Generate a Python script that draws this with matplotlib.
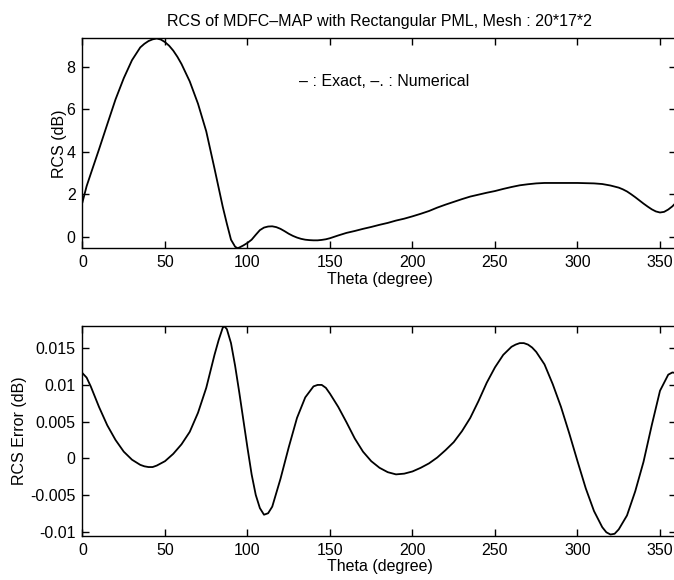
import matplotlib
matplotlib.use("Agg")
import matplotlib.pyplot as plt

plt.rcParams['font.family'] = ['Liberation Sans', 'DejaVu Sans']

title = "RCS of MDFC\u2013MAP with Rectangular PML, Mesh : 20*17*2"
note = "\u2013 : Exact, \u2013. : Numerical"
xlabel = "Theta (degree)"
ylabel_top = "RCS (dB)"
ylabel_bot = "RCS Error (dB)"

xticks = [0, 50, 100, 150, 200, 250, 300, 350]
yticks_top = [0, 2, 4, 6, 8]
yticks_bot = [-0.01, -0.005, 0, 0.005, 0.01, 0.015]
yticklabels_bot = ["-0.01", "-0.005", "0", "0.005", "0.01", "0.015"]

theta_top = [0, 2.5, 5, 10, 15, 20, 25, 30, 35, 37.5, 40, 42.5, 45, 47.5, 50,
             52.5, 55, 57.5, 60, 65, 70, 75, 80, 85, 87.5, 90, 92.5, 94, 95,
             97.5, 100, 102.5, 105, 107.5, 110, 112.5, 115, 117.5, 120, 122.5,
             125, 127.5, 130, 132.5, 135, 137.5, 140, 142.5, 145, 147.5, 150,
             155, 160, 165, 170, 175, 180, 185, 190, 195, 200, 205, 210, 215,
             220, 225, 230, 235, 240, 245, 250, 255, 260, 265, 270, 275, 280,
             285, 290, 295, 300, 305, 310, 315, 320, 325, 327.5, 330, 332.5,
             335, 337.5, 340, 342.5, 345, 347.5, 350, 352.5, 355, 357.5, 360]
rcs_top = [1.62, 2.37, 2.95, 4.1, 5.28, 6.45, 7.45, 8.3, 8.9, 9.07, 9.2, 9.28,
           9.32, 9.27, 9.15, 8.98, 8.75, 8.46, 8.12, 7.3, 6.25, 4.95, 3.2, 1.4,
           0.6, -0.15, -0.48, -0.55, -0.52, -0.42, -0.3, -0.15, 0.08, 0.3,
           0.42, 0.47, 0.48, 0.44, 0.36, 0.25, 0.13, 0.03, -0.05, -0.11, -0.15,
           -0.17, -0.18, -0.18, -0.16, -0.13, -0.08, 0.05, 0.17, 0.26, 0.36,
           0.45, 0.55, 0.64, 0.75, 0.84, 0.95, 1.07, 1.2, 1.36, 1.5, 1.63, 1.76,
           1.88, 1.97, 2.06, 2.14, 2.24, 2.33, 2.41, 2.46, 2.5, 2.52, 2.52,
           2.52, 2.52, 2.52, 2.51, 2.5, 2.47, 2.4, 2.3, 2.22, 2.12, 1.99, 1.85,
           1.7, 1.55, 1.41, 1.28, 1.18, 1.13, 1.16, 1.27, 1.42, 1.62]

theta_bot = [0, 2.5, 5, 10, 15, 20, 25, 30, 35, 37.5, 40, 42.5, 45, 50, 55, 60,
             65, 70, 75, 80, 82.5, 85, 86, 87.5, 90, 92.5, 95, 97.5, 100, 102.5,
             105, 107.5, 110, 112.5, 115, 120, 125, 130, 135, 140, 142.5, 145,
             147.5, 150, 155, 160, 165, 170, 175, 180, 185, 190, 195, 200, 205,
             210, 215, 220, 225, 230, 235, 240, 245, 250, 255, 260, 262.5, 265,
             267.5, 270, 272.5, 275, 280, 285, 290, 295, 300, 305, 310, 315,
             317.5, 320, 322.5, 325, 330, 335, 340, 345, 350, 355, 357.5, 360]
err_bot = [0.0116, 0.0110, 0.0098, 0.0070, 0.0045, 0.0025, 0.0009, -0.0002,
           -0.0009, -0.0011, -0.0012, -0.0012, -0.0010, -0.0004, 0.0006,
           0.0019, 0.0036, 0.0062, 0.0096, 0.0141, 0.0161, 0.0178, 0.0180,
           0.0176, 0.0157, 0.0126, 0.0090, 0.0052, 0.0014, -0.0022, -0.0050,
           -0.0068, -0.0077, -0.0075, -0.0066, -0.0028, 0.0015, 0.0055, 0.0083,
           0.0098, 0.0100, 0.0100, 0.0096, 0.0088, 0.0070, 0.0049, 0.0027,
           0.0009, -0.0004, -0.0013, -0.0019, -0.0022, -0.0021, -0.0018,
           -0.0013, -0.0007, 0.0001, 0.0011, 0.0022, 0.0037, 0.0055, 0.0078,
           0.0103, 0.0124, 0.0141, 0.0152, 0.0155, 0.0157, 0.0157, 0.0155,
           0.0151, 0.0145, 0.0128, 0.0101, 0.0070, 0.0034, -0.0004, -0.0041,
           -0.0072, -0.0094, -0.0101, -0.0104, -0.0103, -0.0097, -0.0078,
           -0.0045, -0.0005, 0.0045, 0.0092, 0.0114, 0.0117, 0.0116]

fig = plt.figure(figsize=(6.74, 5.80), dpi=100)
ax1 = fig.add_axes([0.1224, 0.5719, 0.8813, 0.3621])
ax2 = fig.add_axes([0.1224, 0.0759, 0.8813, 0.3621])

fs = 11.5
for ax in (ax1, ax2):
    ax.set_xlim(0, 360)
    ax.set_xticks(xticks)
    ax.tick_params(direction='in', top=True, right=True, length=5, width=1,
                   labelsize=fs, pad=5)
    for s in ax.spines.values():
        s.set_linewidth(1.0)
    ax.set_xlabel(xlabel, fontsize=fs, labelpad=1)

ax1.plot(theta_top, rcs_top, color='black', lw=1.3, solid_joinstyle='round')
ax1.set_ylim(-0.555, 9.33)
ax1.set_yticks(yticks_top)
ax1.set_ylabel(ylabel_top, fontsize=fs, labelpad=0)
ax1.set_title(title, fontsize=fs, pad=9)
ax1.text(131.5, 7.3, note, fontsize=fs, va='center', ha='left')

ax2.plot(theta_bot, err_bot, color='black', lw=1.3, solid_joinstyle='round')
ax2.set_ylim(-0.0106, 0.01804)
ax2.set_yticks(yticks_bot)
ax2.set_yticklabels(yticklabels_bot)
ax2.set_ylabel(ylabel_bot, fontsize=fs, labelpad=2)

fig.savefig("out.png", dpi=100)
